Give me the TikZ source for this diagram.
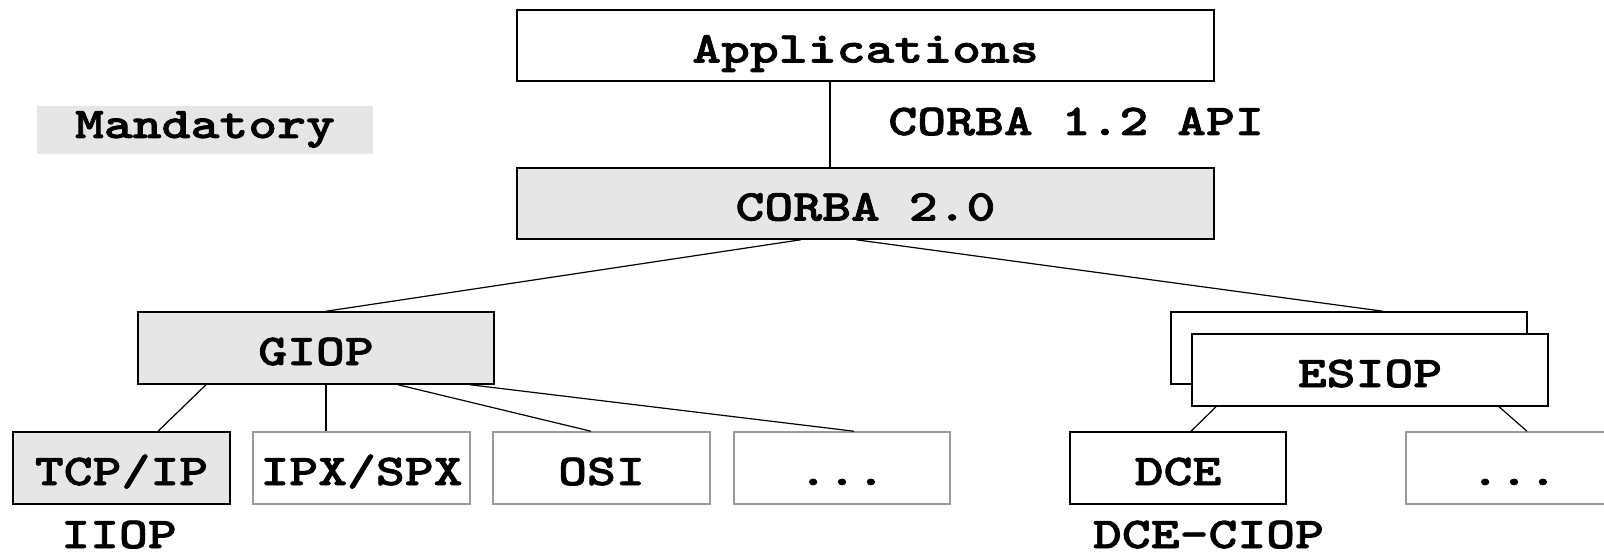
\documentclass[tikz,border=0pt]{standalone}
\usepackage{fontspec}
\newfontfamily\cour{lmmonolt10-bold.otf}[FakeBold=1.6,FakeStretch=1.25]
\definecolor{boxgray}{HTML}{E6E6E6}
\definecolor{edgegray}{HTML}{9A9A9A}
\tikzset{
  lbl/.style={font=\cour\fontsize{22}{26}\selectfont, inner sep=0pt},
  box/.style={lbl, draw=black, line width=0.75pt, fill=white, minimum height=36pt,
              text height=17pt, text depth=0pt},
  graybox/.style={box, fill=boxgray},
  lightbox/.style={box, draw=edgegray},
  conn/.style={line width=0.6pt, draw=black},
}
\begin{document}
\begin{tikzpicture}[x=0.5pt,y=-0.5pt]
\useasboundingbox (0,0) rectangle (1604,555);
\clip (0,0) rectangle (1604,555);
% top
\node[box, minimum width=348.5pt, minimum height=35.5pt] (app) at (865.5,45.5) {Applications};
\node[graybox, minimum width=348.5pt, minimum height=35.5pt] (corba) at (865.5,203.5) {CORBA 2.0};
\node[lbl, anchor=base west] (api) at (888,135) {CORBA 1.2 API};
\node[lbl, fill=boxgray, minimum width=168pt, minimum height=24pt, text height=12pt, text depth=4pt] (mand) at (205,130) {Mandatory};
% middle
\node[graybox, minimum width=178pt] (giop) at (316,348) {GIOP};
\node[box, minimum width=178pt] (esback) at (1349,348) {};
\node[box, minimum width=178pt] (esiop) at (1370,370) {ESIOP};
% bottom
\node[graybox, minimum width=108.5pt] (tcp) at (121.5,468) {TCP/IP};
\node[lightbox, minimum width=108.5pt] (ipx) at (361.5,468) {IPX/SPX};
\node[lightbox, minimum width=108.5pt] (osi) at (601.5,468) {OSI};
\node[lightbox, minimum width=108pt] (dotsa) at (842,468) {...};
\node[box, minimum width=108pt] (dce) at (1178,468) {DCE};
\node[lightbox, minimum width=108pt] (dotsb) at (1514,468) {...};
\node[lbl, anchor=base] (iiop) at (119,548) {IIOP};
\node[lbl, anchor=base] (dceciop) at (1208.5,548) {DCE-CIOP};
% connectors
\draw[conn] ([xshift=-17.75pt]app.south) -- ([xshift=-17.75pt]corba.north);
\draw[conn] ([xshift=-32.25pt]corba.south) -- ([xshift=5pt]giop.north);
\draw[conn] ([xshift=-4.75pt]corba.south) -- ([xshift=17pt]esback.north);
\draw[conn] ([xshift=-55pt]giop.south) -- ([xshift=18.25pt]tcp.north);
\draw[conn] ([xshift=5pt]giop.south) -- ([xshift=-17.75pt]ipx.north);
\draw[conn] ([xshift=41pt]giop.south) -- ([xshift=-5.25pt]osi.north);
\draw[conn] ([xshift=77pt]giop.south) -- ([xshift=6pt]dotsa.north);
\draw[conn] ([xshift=-77pt]esiop.south) -- ([xshift=6.5pt]dce.north);
\draw[conn] ([xshift=64.5pt]esiop.south) -- ([xshift=6.5pt]dotsb.north);
\end{tikzpicture}
\end{document}
